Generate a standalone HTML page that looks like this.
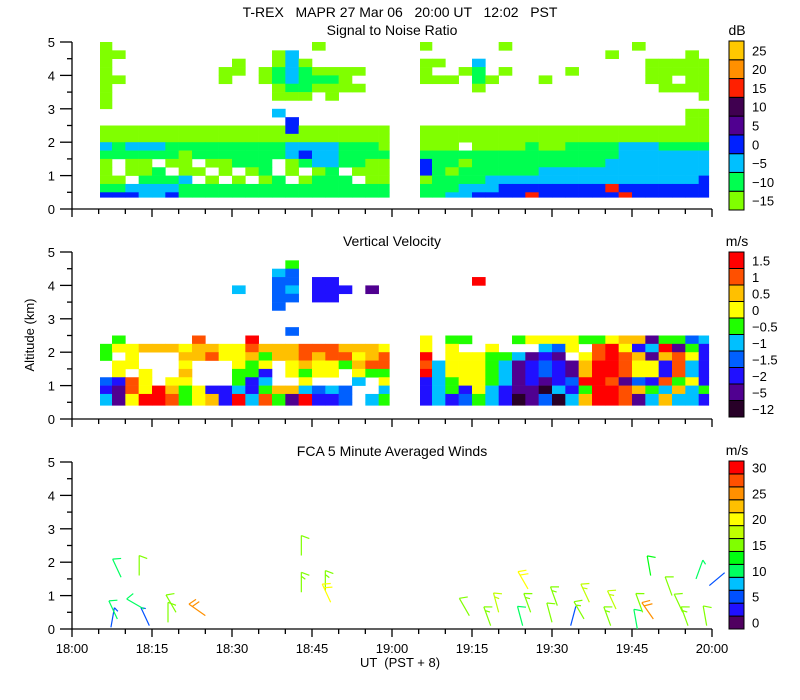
<!DOCTYPE html>
<html><head><meta charset="utf-8">
<style>
html,body{margin:0;padding:0;background:#fff;}
svg{display:block;font-family:"Liberation Sans",sans-serif;}
.pre{white-space:pre;}
</style></head>
<body>
<svg id="chart" width="800" height="700" viewBox="0 0 800 700">
<text class="pre" x="400" y="17" text-anchor="middle" font-size="14">T-REX   MAPR 27 Mar 06   20:00 UT   12:02   PST</text>
<g id="p1"></g>
<g id="p2"></g>
<g id="p3"></g>
<text x="34" y="335" transform="rotate(-90 34 335)" text-anchor="middle" font-size="13">Altitude (km)</text>
<text class="pre" x="400" y="667" text-anchor="middle" font-size="13">UT  (PST + 8)</text>
</svg>
<script>
// ---- data ----
const xTickLabels = ["18:00","18:15","18:30","18:45","19:00","19:15","19:30","19:45","20:00"];
const yTickLabels = ["0","1","2","3","4","5"];
const snrColors = ['#80ff00','#00ff50','#00c0ff','#0020ff','#500090','#400050','#ff2000','#ff9000','#ffc800'];
const snrLabels = ["-15","-10","-5","0","5","10","15","20","25"];
const velColors = ['#280028','#500090','#2010ff','#0060ff','#00c0ff','#20ff00','#ffff00','#ffc000','#ff5000','#ff0000'];
const velLabels = ["-12","-5","-2","-1.5","-1","-0.5","0","0.5","1","1.5"];
const windColors = ['#500060','#2010ff','#0050ff','#00c0ff','#00ff60','#00ff10','#80ff00','#c0ff00','#ffff00','#ffc000','#ff9000','#ff5000','#ff0000'];
const windLabels = ["0","5","10","15","20","25","30"];
// heatmap grids: rows top (4.75-5 km) to bottom (0.25-0.5 km); 22 columns of 2.5 min per segment
// left segment = 18:05-19:00, right segment = 19:05-20:00
const snrLeft = [
"0...............0.....",
"00...........02.......",
"0.........0..020......",
"0........00.01210000..",
"00.......0..0121110...",
"0............0110000..",
"0............000.0....",
"0.....................",
".............2........",
"..............3.......",
"0000000000000030000000",
"0000000000000000000000",
"2122211111111122221110",
"1111110111111123221111",
"0.00.00.00111.01221100",
"0.001.00.0.01.0.01.000",
"00.1112.0.0.01.0111.00",
"1122221111111111111111",
"3332231111111111111111"
];
const snrRight = [
"0.....0.........0.....",
"..............0.....0.",
"00..2............00000",
"0..01.0....0.....00000",
"000.10...0.......00.00",
"....0.............0000",
".....................0",
"......................",
"....................00",
"....................00",
"0000000000000000000000",
"0000000000000000000000",
"000.000010011112221111",
"1111111111111112222222",
"3110111111111122222222",
"3101111112222222222222",
"0111122222222222222223",
"1112223333333363333333",
"1122333363333336333333"
];
const velLeft = [
"......................",
"..............5.......",
".............43.......",
".............33.22....",
"..........4..34.222.1.",
".............33.22....",
".............3........",
"......................",
"......................",
"..............3.......",
".5.....8...9..........",
"5667776776687778887776",
"5.6...7786675778788678",
".66...6...656.67665788",
".6.6..7...552.6566.655",
"3286.66...524..6...4.6",
"2186975622425774343..4",
"4169985672948519223.45",
"4169985672948519223.45"
];
const velRight = [
"......................",
"......................",
"......................",
"....9.................",
"......................",
"......................",
"......................",
"......................",
"......................",
"......................",
"6.55...566665567715534",
"6.6..6...436.896249152",
"9.666554121.6898717862",
"8466654123217998662842",
"9466654123217998662842",
"2456654121239981328562",
"2452642110425998754745",
"2423542013047998147442",
"2423542013047998147442"
];
// wind barbs: time (min after 18:00), base altitude (km), speed (m/s), direction of staff (deg, 0 = up)
const barbT =   [7.3, 8.5, 9.2,  12.6, 14.5, 13.5, 18.0, 19.5, 25.0, 43.0, 43.0, 47.5, 48.5, 74.5, 78.5, 80.0, 85.5, 84.5, 86.0, 90.0, 91.0, 93.5, 96.0, 97.0, 101.0, 102.0, 106.0, 107.0, 108.5, 109.0, 112.5, 115.5, 114.5, 117.0, 119.5, 119.0];
const barbAlt = [0.05, 0.3, 1.55, 1.6,  0.1,  0.6,  0.2,  0.5,  0.4,  2.2,  1.1,  1.15, 0.8,  0.4,  0.1,  0.5,  1.2,  0.1,  0.5,  0.2,  0.7,  0.1,  0.3,  0.8,  0.1,   0.6,  0.0,  0.5,  1.6,  0.3,  1.0,  0.1,  0.5,  1.5,  1.3,  0.1];
const barbSpd = [5,   10,  10,   14,   6,    10,   14,   14,   24,   14,   16,   15,   20,   14,   16,   17,   21,   10,   16,   14,   16,   4,    15,   17,   16,    17,   10,   14,   12,   24,   14,   15,   14,   9,    4,    14];
const barbDir = [10,  335, 335,  0,    335,  300,  0,    330,  305,  0,    0,    0,    335,  330,  340,  345,  330,  345,  340,  345,  340,  15,   330,  335,  340,   335,  350,  340,  350,  325,  340,  340,  335,  20,   50,   350];

// ---- layout ----
const X0 = 72, X1 = 712;
const panels = [
  {g:'p1', y0:209, y5:42, title:'Signal to Noise Ratio', titleY:35, colors:snrColors, labels:snrLabels, unit:'dB', left:snrLeft, right:snrRight, bottom:0.35, cbTop:41, cbBot:210, labelStep:1, name:'snr'},
  {g:'p2', y0:419, y5:252, title:'Vertical Velocity', titleY:246, colors:velColors, labels:velLabels, unit:'m/s', left:velLeft, right:velRight, bottom:0.41, cbTop:252, cbBot:417, labelStep:1, name:'velocity'},
  {g:'p3', y0:629, y5:462, title:'FCA 5 Minute Averaged Winds', titleY:456, colors:windColors, labels:windLabels, unit:'m/s', left:null, right:null, bottom:0, cbTop:461, cbBot:629, labelStep:2, name:'winds'}
];
const NS = 'http://www.w3.org/2000/svg';
function mk(tag, attrs, parent){
  const e = document.createElementNS(NS, tag);
  for (const k in attrs) e.setAttribute(k, attrs[k]);
  parent.appendChild(e); return e;
}
function xScale(t){ return X0 + (X1 - X0) * t / 120; }
function makeY(p){ return a => p.y0 + (p.y5 - p.y0) * a / 5; }
const segs = [[5.25, 59.5],[65.25, 119.4]];

panels.forEach((p, pi) => {
  const g = document.getElementById(p.g);
  const y = makeY(p);
  if (p.left) {
    const hm = mk('g', {}, g);
    
    
    [p.left, p.right].forEach((rows, si) => {
      const colStart = si === 0 ? 2 : 26;
      rows.forEach((row, r) => {
        const aTop = 5 - 0.25 * r;
        let aBot = aTop - 0.25;
        if (aBot < p.bottom) aBot = p.bottom;
        for (let j = 0; j < 22; j++) {
          const ch = row[j];
          if (!ch || ch === '.') continue;
          let t0 = (colStart + j) * 2.5, t1 = t0 + 2.5;
          const seg = segs[si];
          t0 = Math.max(t0, seg[0]); t1 = Math.min(t1, seg[1]);
          if (t1 <= t0) continue;
          const cell = mk('rect', {x: xScale(t0), y: y(aTop), width: xScale(t1) - xScale(t0) + 0.3, height: y(aBot) - y(aTop) + 0.3, fill: p.colors[+ch]}, hm);
          
          
        }
      });
    });
  }
  const ax = mk('g', {stroke:'#000', 'stroke-width':1.3, fill:'none'}, g);
  
  
  mk('line', {x1:X0, y1:p.y5, x2:X0, y2:p.y0}, ax);
  mk('line', {x1:X0, y1:p.y0, x2:X1, y2:p.y0}, ax);
  for (let i = 0; i <= 10; i++) {
    const yy = y(i * 0.5);
    mk('line', {x1: i % 2 ? X0 - 5 : X0 - 12, y1: yy, x2: X0, y2: yy}, ax);
  }
  for (let i = 0; i <= 24; i++) {
    const xx = xScale(i * 5);
    mk('line', {x1: xx, y1: p.y0, x2: xx, y2: p.y0 + (i % 3 ? 5 : 8)}, ax);
  }
  yTickLabels.forEach((lab, i) => {
    const tl = mk('text', {x: 55, y: y(i) + 5, 'text-anchor':'end', 'font-size':13}, g);
    tl.textContent = lab;
    
    
  });
  const tt = mk('text', {x: 392, y: p.titleY, 'text-anchor':'middle', 'font-size':14}, g);
  tt.textContent = p.title;
  
  
  const cb = mk('g', {}, g);
  
  
  const n = p.colors.length, h = (p.cbBot - p.cbTop) / n;
  p.colors.forEach((col, i) => {
    const rr = mk('rect', {x: 729, y: p.cbBot - (i + 1) * h, width: 15, height: h, fill: col, stroke:'#000', 'stroke-width':1}, cb);
    
    
  });
  p.labels.forEach((lab, i) => {
    const idx = i * p.labelStep;
    const tl = mk('text', {x: 752, y: p.cbBot - (idx + 0.5) * h + 5, 'font-size':13}, cb);
    tl.textContent = lab.replace('-', '\u2212');
    
    
  });
  const ut = mk('text', {x: 737, y: p.cbTop - 6, 'text-anchor':'middle', 'font-size':14}, cb);
  ut.textContent = p.unit;
  
  
});

const svg = document.getElementById('chart');
xTickLabels.forEach((lab, i) => {
  const tl = mk('text', {x: xScale(i * 15), y: 653, 'text-anchor':'middle', 'font-size':13}, svg);
  tl.textContent = lab;
  
  
});

const p3 = panels[2], y3 = makeY(p3);
const bg = mk('g', {fill:'none', 'stroke-width':1.2}, document.getElementById('p3'));


barbT.forEach((t, i) => {
  const spd = barbSpd[i];
  const col = windColors[Math.min(12, Math.max(0, Math.round(spd / 2.5)))];
  const bx = xScale(t), by = y3(barbAlt[i]);
  const th = barbDir[i] * Math.PI / 180, L = 20;
  const dx = Math.sin(th), dy = -Math.cos(th);
  const ex = bx + dx * L, ey = by + dy * L;
  let d = `M${bx},${by}L${ex},${ey}`;
  let rem = spd, k = 0;
  const px = -dy, py = dx;
  while (rem >= 5 && k < 4) {
    const len = rem >= 10 ? 8 : 4;
    const sx = ex - dx * k * 4, sy = ey - dy * k * 4;
    d += `M${sx},${sy}L${sx + px * len - dx * 3},${sy + py * len - dy * 3}`;
    rem -= rem >= 10 ? 10 : 5; k++;
  }
  const path = mk('path', {d, stroke: col}, bg);
  
  
});
</script>
</body></html>
